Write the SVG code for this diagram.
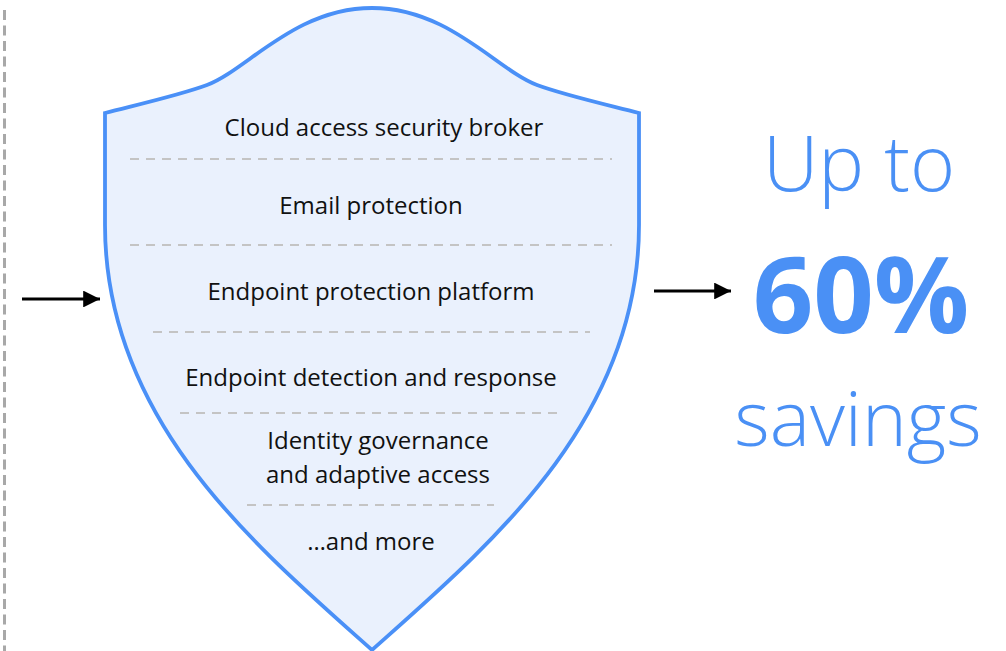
<svg xmlns="http://www.w3.org/2000/svg" width="1006" height="651" viewBox="0 0 1006 651">
<style>
.lbl{font-family:"Open Sans","Liberation Sans",sans-serif;font-size:24px;fill:#111;text-anchor:middle}
.sep{stroke:#C4C4C4;stroke-width:2;stroke-dasharray:9 7;fill:none}
.big{font-family:"Open Sans","Liberation Sans",sans-serif;fill:#4A90F5;text-anchor:middle}
.conn{stroke:#000;stroke-width:3;fill:none}
</style>
<defs>
<marker id="ah" viewBox="0 0 10 10" refX="10" refY="5" markerWidth="5.6" markerHeight="5.6" markerUnits="strokeWidth" orient="auto">
<path d="M0,0 L10,5 L0,10 Z" fill="#000"/>
</marker>
</defs>
<rect width="1006" height="651" fill="#fff"/>
<line x1="4.5" y1="10" x2="4.5" y2="651" stroke="#A8A8A8" stroke-width="3" stroke-dasharray="10 5.5"/>
<g id="shield">
<path d="M105,113 C140,104 180,95 207,85 C247,70 295,8 372,8 C449,8 497,70 537,85 C564,95 604,104 639,113 L639,225 C639,420 490,545 372,650 C254,545 105,420 105,225 Z" fill="#EAF1FD" stroke="#4A90F7" stroke-width="3.8" stroke-linejoin="miter"/>
<text class="lbl" x="384" y="136">Cloud access security broker</text>
<line class="sep" x1="130" y1="159" x2="612" y2="159"/>
<text class="lbl" x="371" y="214">Email protection</text>
<line class="sep" x1="130" y1="245" x2="612" y2="245"/>
<text class="lbl" x="371" y="300">Endpoint protection platform</text>
<line class="sep" x1="153" y1="332" x2="590" y2="332"/>
<text class="lbl" x="371" y="386">Endpoint detection and response</text>
<line class="sep" x1="180" y1="413" x2="562" y2="413"/>
<text class="lbl" x="378" y="449">Identity governance</text>
<text class="lbl" x="378" y="483">and adaptive access</text>
<line class="sep" x1="247" y1="505" x2="494" y2="505"/>
<text class="lbl" x="371" y="550">…and more</text>
</g>
<g id="savings">
<text class="big" x="859" y="191" font-size="77" font-weight="300">Up to</text>
<text class="big" x="861" y="333" font-size="106" font-weight="700">60%</text>
<text class="big" x="858" y="446" font-size="76" font-weight="300">savings</text>
</g>
<g id="connectors">
<line class="conn" x1="22" y1="299" x2="100" y2="299" marker-end="url(#ah)"/>
<line class="conn" x1="654" y1="291" x2="731" y2="291" marker-end="url(#ah)"/>
</g>
</svg>
